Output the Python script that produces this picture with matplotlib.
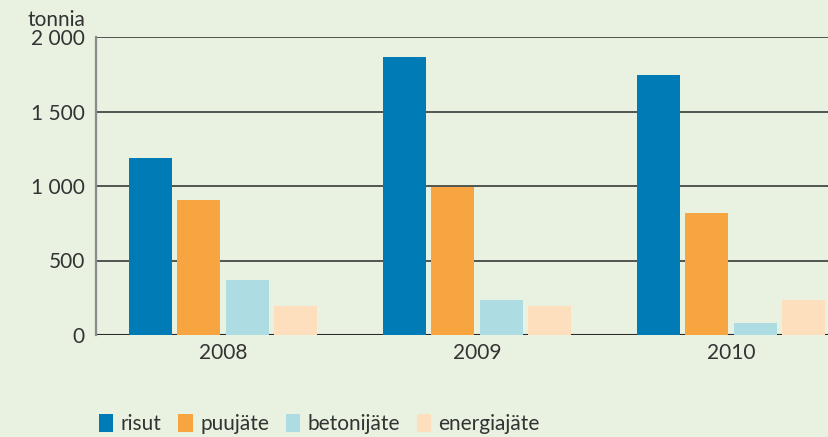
import numpy as np
import matplotlib.pyplot as plt
from matplotlib.patches import Patch

years = ["2008", "2009", "2010"]
series = ["risut", "puujäte", "betonijäte", "energiajäte"]
risut = [1188, 1866, 1745]
puujate = [906, 993, 819]
betonijate = [369, 235, 80]
energiajate = [195, 195, 235]
colors = ["#007bb5", "#f7a541", "#addde3", "#fddfbd"]

BG = "#e9f1e1"
TXT = "#333333"

plt.rcParams['font.family'] = ['Lato', 'DejaVu Sans']

fig = plt.figure(figsize=(8.29, 4.37), dpi=100, facecolor=BG)
ax = fig.add_axes([96 / 829, 1 - 335 / 437, 1 - 96 / 829, (335 - 37) / 437])
ax.set_facecolor(BG)

x = np.arange(len(years))
step = 0.19
width = 0.17
values = [risut, puujate, betonijate, energiajate]
for i, (vals, c) in enumerate(zip(values, colors)):
    ax.bar(x + (i - 1.5) * step, vals, width=width, color=c, zorder=3, linewidth=0)

ax.set_ylim(0, 2000)
ax.set_xlim(-0.5, 2.386)
ax.set_yticks([0, 500, 1000, 1500, 2000])
ax.set_yticklabels(["0", "500", "1 000", "1 500", "2 000"])
ax.set_xticks(x)
ax.set_xticklabels(years)
ax.tick_params(axis='both', length=0, labelsize=15, colors=TXT)
ax.tick_params(axis='y', pad=8)
ax.tick_params(axis='x', pad=6)

for yv in [500, 1000, 1500, 2000]:
    ax.axhline(yv, color="#2a2a2a", linewidth=1.1, zorder=1)
ax.axhline(0, color="#2a2a2a", linewidth=1.5, zorder=2)

for s in ["top", "right", "bottom"]:
    ax.spines[s].set_visible(False)
ax.spines["left"].set_color("#8a8a8a")
ax.spines["left"].set_linewidth(1.6)

fig.text(28 / 829, 1 - 20 / 437, "tonnia", fontsize=15, color=TXT, va="center", ha="left")

handles = [Patch(facecolor=c, edgecolor='none', label=s) for c, s in zip(colors, series)]
fig.legend(handles=handles, ncol=4, loc="center left", bbox_to_anchor=(80 / 829, 1 - 424 / 437),
           frameon=False, fontsize=15, handlelength=0.7, handleheight=1.0,
           handletextpad=0.35, columnspacing=0.8, labelcolor=TXT)

fig.savefig("out.png", dpi=100, facecolor=BG)
